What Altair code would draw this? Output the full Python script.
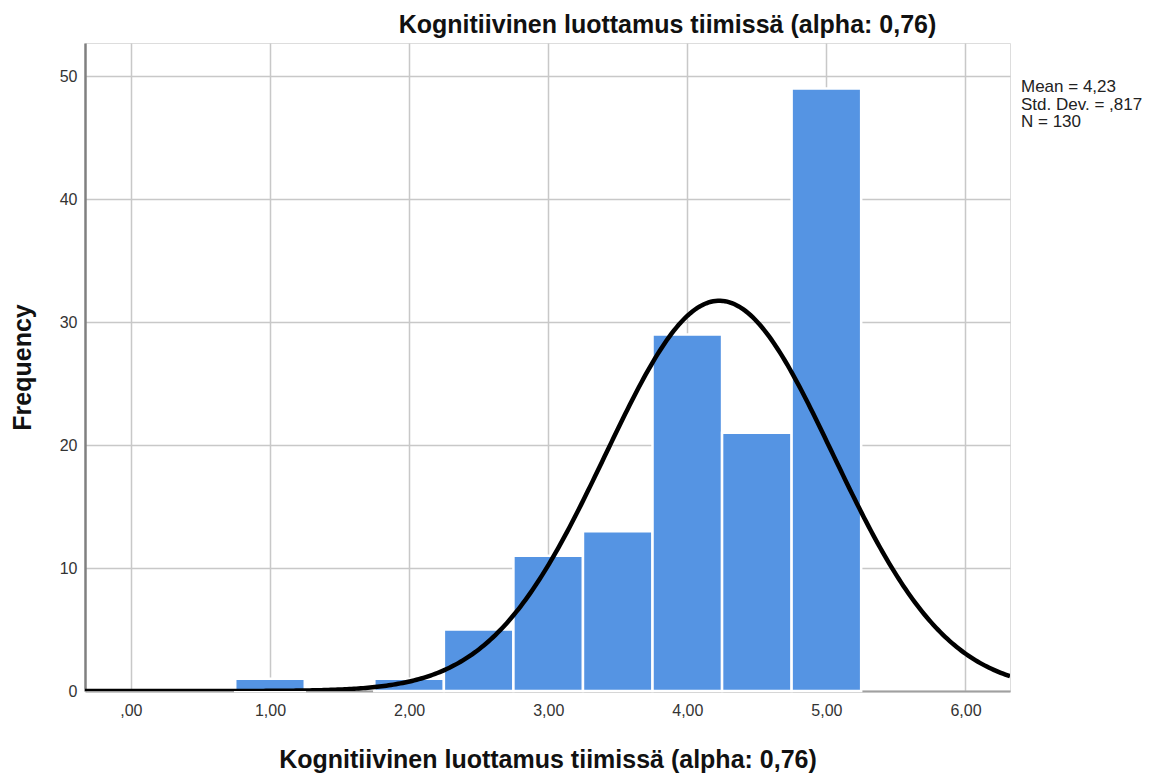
import altair as alt
import numpy as np
import pandas as pd

# Histogram bins (value range) and frequencies
bin_start = [0.75, 1.75, 2.25, 2.75, 3.25, 3.75, 4.25, 4.75]
bin_end = [1.25, 2.25, 2.75, 3.25, 3.75, 4.25, 4.75, 5.25]
counts = [1, 1, 5, 11, 13, 29, 21, 49]

# Summary statistics shown on the chart
mean = 4.23
std_dev = 0.817
n_obs = 130
bin_width = 0.5

title_text = "Kognitiivinen luottamus tiimissä (alpha: 0,76)"
stats_lines = ["Mean = 4,23", "Std. Dev. = ,817", "N = 130"]

x_ticks = [0, 1, 2, 3, 4, 5, 6]
y_ticks = [0, 10, 20, 30, 40, 50]
x_domain = [-0.33, 6.32]
y_domain = [0, 52.7]

bars = pd.DataFrame({"start": bin_start, "end": bin_end, "count": counts})

# Normal curve implied by mean / sd / N (scaled to bin width)
xs = np.linspace(x_domain[0], x_domain[1], 400)
ys = n_obs * bin_width / (std_dev * np.sqrt(2 * np.pi)) * np.exp(-0.5 * ((xs - mean) / std_dev) ** 2)
curve = pd.DataFrame({"x": xs, "y": ys})

FONT = "Liberation Sans"

x_scale = alt.Scale(domain=x_domain, nice=False, zero=False)
y_scale = alt.Scale(domain=y_domain, nice=False)

x_axis = alt.Axis(
    values=x_ticks,
    labelExpr="datum.value == 0 ? ',00' : replace(format(datum.value, '.2f'), '.', ',')",
    ticks=False,
    labelPadding=11,
    labelFontSize=16,
    labelColor="#333333",
    labelFont=FONT,
    title="Kognitiivinen luottamus tiimissä (alpha: 0,76)",
    titleFont=FONT,
    titleFontSize=25,
    titleFontWeight="bold",
    titleColor="#111111",
    titlePadding=29,
    grid=True,
    gridColor="#c8c8c8",
    gridWidth=1.5,
    domainColor="#a0a0a0",
    domainWidth=2,
)

y_axis = alt.Axis(
    values=y_ticks,
    ticks=False,
    labelPadding=8,
    labelFontSize=16,
    labelColor="#333333",
    labelFont=FONT,
    title="Frequency",
    titleFont=FONT,
    titleFontSize=25,
    titleFontWeight="bold",
    titleColor="#111111",
    titlePadding=24,
    grid=True,
    gridColor="#c8c8c8",
    gridWidth=1.5,
    domainColor="#808080",
    domainWidth=2.5,
)

bar_layer = alt.Chart(bars).mark_rect(
    color="#5594e3", stroke="white", strokeWidth=2.5
).encode(
    x=alt.X("start:Q", scale=x_scale, axis=x_axis),
    x2="end:Q",
    y=alt.Y("count:Q", scale=y_scale, axis=y_axis),
    y2=alt.datum(0),
)

curve_layer = alt.Chart(curve).mark_line(
    color="black", strokeWidth=4.5, clip=True
).encode(
    x=alt.X("x:Q", scale=x_scale),
    y=alt.Y("y:Q", scale=y_scale),
)

stats_layer = alt.Chart(pd.DataFrame({"t": ["\n".join(stats_lines)]})).mark_text(
    align="left", baseline="top", font=FONT, fontSize=17, lineBreak="\n",
    lineHeight=17.5, color="#222222"
).encode(
    x=alt.value(936),
    y=alt.value(36),
    text="t:N",
)

chart = alt.layer(bar_layer, curve_layer, stats_layer).properties(
    width=925,
    height=648,
    title=alt.TitleParams(
        title_text, font=FONT, fontSize=25, fontWeight="bold", color="#111111",
        anchor="middle", dx=120, offset=5,
    ),
    autosize=alt.AutoSizeParams(type="none"),
    padding={"left": 85, "top": 43, "right": 140, "bottom": 87},
).configure_view(stroke=None).configure(background="white")

chart.save("out.html", embed_options={"renderer": "svg", "actions": False})
